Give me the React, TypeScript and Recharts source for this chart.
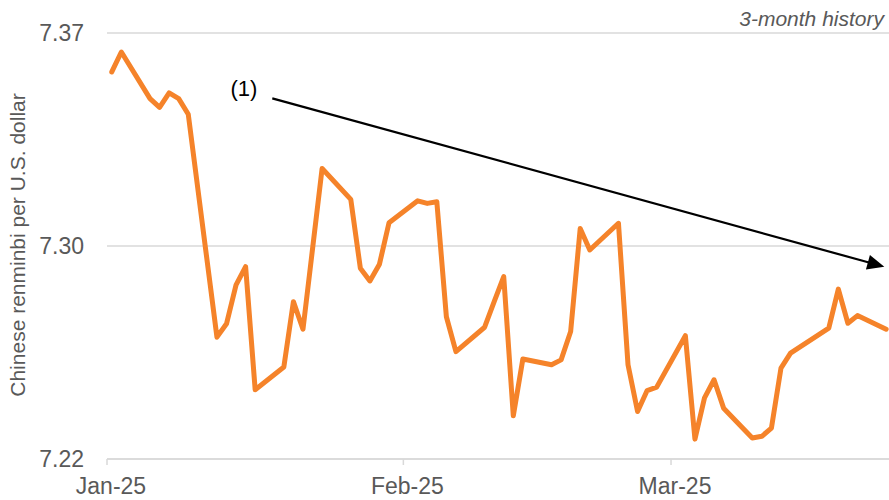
import React from 'react';
import { LineChart, Line, XAxis, YAxis, CartesianGrid, ReferenceLine } from 'recharts';

// day offsets since Jan 1, 2025
const days = [1, 2, 5, 6, 7, 8, 9, 12, 13, 14, 15, 16, 19, 20, 21, 23, 26, 27, 28, 29, 30, 33, 34, 35, 36, 37, 40, 41, 42, 43, 44, 47, 48, 49, 50, 51, 54, 55, 56, 57, 58, 61, 62, 63, 64, 65, 68, 69, 70, 71, 72, 76, 77, 78, 79, 82];
const rates = [7.3563, 7.3633, 7.3469, 7.3438, 7.3489, 7.3469, 7.3414, 7.2629, 7.2676, 7.2813, 7.2877, 7.2444, 7.2524, 7.2754, 7.2657, 7.3223, 7.3114, 7.2872, 7.2827, 7.2886, 7.3032, 7.3109, 7.31, 7.3106, 7.2701, 7.2578, 7.2664, 7.2754, 7.2842, 7.2352, 7.2552, 7.2532, 7.2549, 7.2649, 7.3012, 7.2936, 7.303, 7.2532, 7.2367, 7.2441, 7.2453, 7.2634, 7.227, 7.2415, 7.2479, 7.2379, 7.2274, 7.228, 7.2309, 7.252, 7.2573, 7.2661, 7.2798, 7.2678, 7.2705, 7.2657];

const xTicks = [0.5, 31.5, 59.5];
const xTickLabels = ['Jan-25', 'Feb-25', 'Mar-25'];
const yTicks = [7.22, 7.295, 7.37];
const yTickLabels = ['7.22', '7.30', '7.37'];
const xDomain = [0.5, 82.3];
const yDomain = [7.22, 7.37];

const arrowStart = { x: 17.79, y: 7.347 };
const arrowEnd = { x: 81.81, y: 7.2877 };
const arrowLabel = '(1)';
const yAxisTitle = 'Chinese renminbi per U.S. dollar';
const cornerNote = '3-month history';

const data = days.map((d, i) => ({ day: d, rate: rates[i] }));

const FONT = '"Liberation Sans", Arial, sans-serif';
const TEXT = '#595959';
const GRID = '#d9d9d9';

const XTick = (props: any) => {
  const { x, y, index } = props;
  return (
    <text x={x + 4} y={y} dy="0.71em" textAnchor="middle" fill={TEXT} fontSize={23} fontFamily={FONT}>
      {xTickLabels[index]}
    </text>
  );
};

const YTick = (props: any) => {
  const { x, y, index } = props;
  return (
    <text x={x} y={y} dy="0.355em" textAnchor="end" fill={TEXT} fontSize={23} fontFamily={FONT}>
      {yTickLabels[index]}
    </text>
  );
};

const ArrowShape = (props: any) => {
  const { x1, y1, x2, y2 } = props;
  const dx = x2 - x1;
  const dy = y2 - y1;
  const len = Math.sqrt(dx * dx + dy * dy);
  const ux = dx / len;
  const uy = dy / len;
  const hl = 17;
  const hw = 7.5;
  const bx = x2 - ux * hl;
  const by = y2 - uy * hl;
  const p1 = `${x2},${y2}`;
  const p2 = `${bx - uy * hw},${by + ux * hw}`;
  const p3 = `${bx + uy * hw},${by - ux * hw}`;
  return (
    <g>
      <line x1={x1} y1={y1} x2={bx + ux * 2} y2={by + uy * 2} stroke="#000" strokeWidth={2.2} />
      <polygon points={`${p1} ${p2} ${p3}`} fill="#000" />
      <text x={x1 - 15} y={y1 - 2} textAnchor="end" fill="#000" fontSize={22} fontFamily={FONT}>
        {arrowLabel}
      </text>
    </g>
  );
};

export default function App() {
  return (
    <div style={{ position: 'absolute', left: 0, top: 0, width: 889, height: 500, background: '#fff', fontFamily: FONT }}>
      <div
        style={{
          position: 'absolute',
          right: 5,
          top: 8,
          fontSize: 21,
          lineHeight: '21px',
          fontStyle: 'italic',
          color: TEXT,
          fontFamily: FONT,
        }}
      >
        {cornerNote}
      </div>
      <svg width={40} height={500} style={{ position: 'absolute', left: 0, top: 0 }}>
        <text
          x={25}
          y={245}
          transform="rotate(-90 25 245)"
          textAnchor="middle"
          fill={TEXT}
          fontSize={21}
          fontFamily={FONT}
        >
          {yAxisTitle}
        </text>
      </svg>
      <LineChart
        width={889}
        height={500}
        data={data}
        margin={{ top: 33, right: 0, left: 0, bottom: 1 }}
        style={{ position: 'absolute', left: 0, top: 0 }}
      >
        <CartesianGrid horizontal vertical={false} stroke={GRID} strokeWidth={1.5} />
        <XAxis
          dataKey="day"
          type="number"
          domain={xDomain}
          ticks={xTicks}
          allowDataOverflow
          height={40}
          tickSize={6}
          tickMargin={13}
          stroke={GRID}
          strokeWidth={1.5}
          tickLine={{ stroke: GRID, strokeWidth: 1.5 }}
          tick={<XTick />}
          interval={0}
        />
        <YAxis
          type="number"
          domain={yDomain}
          ticks={yTicks}
          allowDataOverflow
          width={107}
          axisLine={false}
          tickLine={false}
          tickSize={0}
          tickMargin={23}
          tick={<YTick />}
          interval={0}
        />
        <Line
          type="linear"
          dataKey="rate"
          stroke="#F5832A"
          strokeWidth={5}
          dot={false}
          activeDot={false}
          isAnimationActive={false}
          strokeLinejoin="round"
          strokeLinecap="round"
        />
        <ReferenceLine
          segment={[arrowStart, arrowEnd]}
          ifOverflow="visible"
          shape={<ArrowShape />}
        />
      </LineChart>
    </div>
  );
}
